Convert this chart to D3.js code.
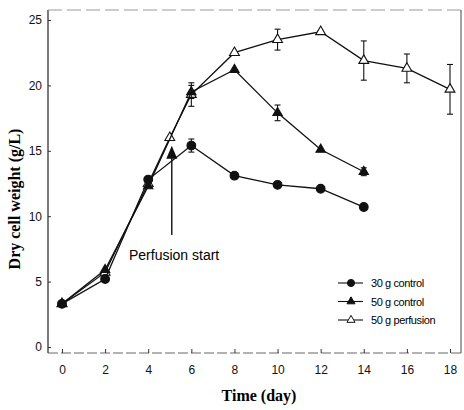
<!DOCTYPE html>
<html>
<head>
<meta charset="utf-8">
<script src="https://cdn.jsdelivr.net/npm/d3@7"></script>
<style>
  body { margin: 0; background: #fff; }
  svg { display: block; }
</style>
</head>
<body>
<svg id="chart" width="464" height="410"></svg>
<script>
// data
const xTicks = [0, 2, 4, 6, 8, 10, 12, 14, 16, 18];
const yTicks = [0, 5, 10, 15, 20, 25];

const ctrl30Days = [0, 2, 4, 6, 8, 10, 12, 14];
const ctrl30Vals = [3.3, 5.2, 12.8, 15.4, 13.1, 12.4, 12.1, 10.7];
const ctrl30Err  = [0, 0, 0, 0.5, 0, 0, 0, 0];

const ctrl50Days = [0, 2, 4, 6, 8, 10, 12, 14];
const ctrl50Vals = [3.3, 5.9, 12.3, 19.5, 21.2, 17.9, 15.1, 13.4];
const ctrl50Err  = [0, 0, 0, 0.5, 0, 0.6, 0, 0.3];

const perfDays = [0, 2, 4, 5, 6, 8, 10, 12, 14, 16, 18];
const perfVals = [3.3, 5.7, 12.5, 16.0, 19.3, 22.5, 23.5, 24.1, 21.9, 21.3, 19.7];
const perfErr  = [0, 0, 0, 0, 0.9, 0, 0.8, 0.1, 1.5, 1.1, 1.9];

const legendNames = ['30 g control', '50 g control', '50 g perfusion'];
const perfusionStartDay = 5;
const perfusionArrowVal = 15.0;

const svg = d3.select('#chart');
const x = d3.scaleLinear().domain([0, 18]).range([62, 450]);
const y = d3.scaleLinear().domain([0, 25]).range([347, 20]);

const frame = {left: 48, top: 10, right: 461, bottom: 353};

// frame
svg.append('line').attr('x1', frame.left).attr('x2', frame.left)
    .attr('y1', frame.top).attr('y2', frame.bottom).attr('stroke', '#222').attr('stroke-width', 1.2);
svg.append('line').attr('x1', frame.left).attr('x2', frame.right)
    .attr('y1', frame.bottom).attr('y2', frame.bottom).attr('stroke', '#666').attr('stroke-width', 1)
    .attr('stroke-dasharray', '10,3');
svg.append('line').attr('x1', frame.left).attr('x2', frame.right)
    .attr('y1', frame.top).attr('y2', frame.top).attr('stroke', '#999').attr('stroke-width', 1)
    .attr('stroke-dasharray', '14,5');
svg.append('line').attr('x1', frame.right).attr('x2', frame.right)
    .attr('y1', frame.top).attr('y2', frame.bottom).attr('stroke', '#444').attr('stroke-width', 1);

// axes, ticks inside
const xAxis = svg.append('g').attr('transform', `translate(0,${frame.bottom})`)
    .call(d3.axisBottom(x).tickValues(xTicks).tickSize(-4).tickPadding(12));
const yAxis = svg.append('g').attr('transform', `translate(${frame.left},0)`)
    .call(d3.axisLeft(y).tickValues(yTicks).tickSize(-3).tickPadding(6));
[xAxis, yAxis].forEach(a => {
    a.select('.domain').remove();
    a.selectAll('line').attr('stroke', '#333');
    a.selectAll('text').attr('font-family', 'Arial, "Liberation Sans", sans-serif')
        .attr('font-size', 12).attr('fill', '#111');
});

// axis titles
svg.append('text').attr('x', 259).attr('y', 401).attr('text-anchor', 'middle')
    .attr('font-family', '"Liberation Serif", "Times New Roman", serif')
    .attr('font-weight', 'bold').attr('font-size', 16).text('Time (day)');
svg.append('text').attr('transform', 'translate(20,199) rotate(-90)').attr('text-anchor', 'middle')
    .attr('font-family', '"Liberation Serif", "Times New Roman", serif')
    .attr('font-weight', 'bold').attr('font-size', 16).text('Dry cell weight (g/L)');

const line = d3.line().x(d => x(d[0])).y(d => y(d[1]));

function drawSeries(days, vals, errs, kind, size) {
    const pts = days.map((d, i) => [d, vals[i], errs[i]]);
    const g = svg.append('g');
    g.append('path').datum(pts).attr('d', line)
        .attr('fill', 'none').attr('stroke', '#111').attr('stroke-width', 1.3);
    pts.filter(p => p[2] > 0).forEach(p => {
        const cx = x(p[0]), y1 = y(p[1] - p[2]), y2 = y(p[1] + p[2]);
        g.append('line').attr('x1', cx).attr('x2', cx).attr('y1', y1).attr('y2', y2)
            .attr('stroke', '#111').attr('stroke-width', 1.1);
        [y1, y2].forEach(yy => g.append('line').attr('x1', cx - 3).attr('x2', cx + 3)
            .attr('y1', yy).attr('y2', yy).attr('stroke', '#111').attr('stroke-width', 1.1));
    });
    g.selectAll('.pt').data(pts).enter().append('path')
        .attr('transform', p => `translate(${x(p[0])},${y(p[1])})`)
        .attr('d', symbolPath(kind, size))
        .attr('fill', kind === 'open' ? '#fff' : '#111')
        .attr('stroke', '#111').attr('stroke-width', 1.1);
}

function symbolPath(kind, size) {
    if (kind === 'circle') return d3.symbol(d3.symbolCircle, size)();
    return d3.symbol(d3.symbolTriangle, size)();
}

drawSeries(perfDays, perfVals, perfErr, 'open', 42);
drawSeries(ctrl50Days, ctrl50Vals, ctrl50Err, 'tri', 38);
drawSeries(ctrl30Days, ctrl30Vals, ctrl30Err, 'circle', 60);

// perfusion start arrow
const ax = x(perfusionStartDay) + 2, ay = y(perfusionArrowVal) - 5;
svg.append('line').attr('x1', ax).attr('x2', ax).attr('y1', ay + 10).attr('y2', 235)
    .attr('stroke', '#111').attr('stroke-width', 1.4);
svg.append('path').attr('d', `M${ax},${ay} L${ax + 5.5},${ay + 13} L${ax - 5.5},${ay + 13} Z`)
    .attr('fill', '#111');
svg.append('text').attr('x', 129).attr('y', 260)
    .attr('font-family', 'Arial, "Liberation Sans", sans-serif').attr('font-size', 14)
    .text('Perfusion start');

// legend
const legKinds = ['circle', 'tri', 'open'];
const leg = svg.append('g');
legendNames.forEach((name, i) => {
    const ly = 283 + i * 18.5;
    leg.append('line').attr('x1', 338).attr('x2', 363).attr('y1', ly).attr('y2', ly)
        .attr('stroke', '#111').attr('stroke-width', 1.1);
    leg.append('path').attr('transform', `translate(351,${ly})`)
        .attr('d', symbolPath(legKinds[i], legKinds[i] === 'circle' ? 40 : 28))
        .attr('fill', legKinds[i] === 'open' ? '#fff' : '#111')
        .attr('stroke', '#111').attr('stroke-width', 1);
    leg.append('text').attr('x', 371).attr('y', ly + 4)
        .attr('font-family', 'Arial, "Liberation Sans", sans-serif').attr('font-size', 11)
        .attr('letter-spacing', -0.4).text(name);
});
</script>
</body>
</html>
